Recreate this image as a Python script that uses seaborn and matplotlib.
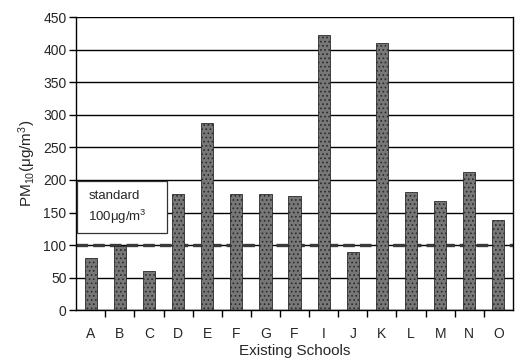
import matplotlib
matplotlib.use("Agg")
import matplotlib.pyplot as plt
from matplotlib.patches import Rectangle
import seaborn as sns
import pandas as pd
import numpy as np

schools = ["A", "B", "C", "D", "E", "F", "G", "F", "I", "J", "K", "L", "M", "N", "O"]
pm10 = [80, 98, 60, 178, 287, 179, 179, 175, 423, 90, 410, 181, 167, 212, 138]
standard = 100
yticks = list(range(0, 451, 50))

sns.set_theme(style="white")
plt.rcParams["font.family"] = ["Liberation Sans", "DejaVu Sans"]
plt.rcParams["mathtext.fontset"] = "custom"
plt.rcParams["mathtext.rm"] = "Liberation Sans"
plt.rcParams["mathtext.it"] = "Liberation Sans"
plt.rcParams["hatch.color"] = "#2e2e2e"
plt.rcParams["hatch.linewidth"] = 0.7

df = pd.DataFrame({"pos": range(len(schools)), "pm10": pm10})

fig = plt.figure(figsize=(5.15, 3.61), dpi=100)
ax = fig.add_axes([0.148, 0.141, 0.848, 0.811])

for y in yticks:
    ax.axhline(y, color="black", lw=1.0, zorder=0)
ax.axhline(standard, color="#3a3a3a", lw=2.4, ls=(0, (3.5, 1.5)), zorder=0.5)

sns.barplot(data=df, x="pos", y="pm10", color="#777777", width=0.42,
            saturation=1, edgecolor="#2a2a2a", linewidth=0.6, ax=ax, zorder=2)
for p in ax.patches:
    p.set_hatch("....")

ax.set_xlim(-0.5, len(schools) - 0.5)
ax.set_ylim(0, 450)
ax.set_yticks(yticks)
ax.set_yticklabels([str(v) for v in yticks], fontsize=10)
ax.set_xticks(range(len(schools)))
ax.set_xticklabels(schools, fontsize=10)
ax.set_xticks(np.arange(0.5, len(schools) - 0.5, 1.0), minor=True)
ax.tick_params(axis="x", which="major", length=0, pad=12)
ax.tick_params(axis="x", which="minor", length=5, width=1, color="black", direction="out")
ax.tick_params(axis="y", which="major", length=5, width=1, color="black", direction="out", pad=2)
ax.yaxis.set_ticks_position("left")
ax.xaxis.set_ticks_position("bottom")

for side in ["left", "right", "bottom"]:
    ax.spines[side].set_visible(True)
    ax.spines[side].set_color("black")
    ax.spines[side].set_linewidth(1.0)
ax.spines["top"].set_visible(False)

ax.set_xlabel("Existing Schools", fontsize=11, labelpad=2)
ax.set_ylabel(r"PM$_{10}$($\mu$g/m$^3$)", fontsize=11, labelpad=4)

# annotation box for the standard limit
box = Rectangle((0.002, 118 / 450), 0.206, 80 / 450, transform=ax.transAxes,
                facecolor="white", edgecolor="#333333", lw=0.9, zorder=5)
ax.add_patch(box)
ax.text(0.028, 176 / 450, "standard", transform=ax.transAxes, fontsize=9.5,
        va="center", ha="left", zorder=6)
ax.text(0.028, 143 / 450, r"$100\mu$g/m$^3$", transform=ax.transAxes, fontsize=9.5,
        va="center", ha="left", zorder=6)

fig.savefig("out.png", dpi=100)
